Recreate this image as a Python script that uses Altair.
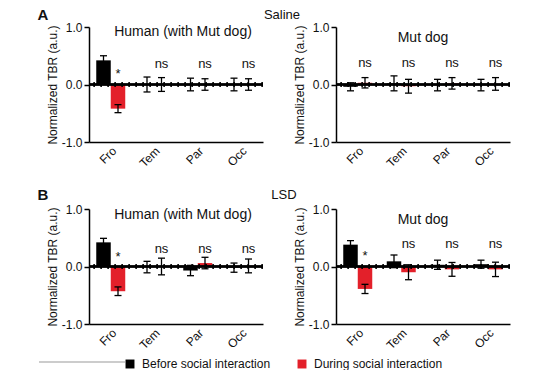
import altair as alt
import pandas as pd

regions = ["Fro", "Tem", "Par", "Occ"]
conditions = ["Before social interaction", "During social interaction"]
colors = ["#000000", "#e3202a"]

# Saline, Human (with Mut dog)
hs_before = [0.42, 0.0, 0.0, 0.0]
hs_before_sem = [0.08, 0.13, 0.11, 0.11]
hs_during = [-0.42, 0.0, 0.0, 0.0]
hs_during_sem = [0.07, 0.12, 0.10, 0.10]
hs_ann = ["*", "ns", "ns", "ns"]
hs_ann_y = [0.19, 0.35, 0.35, 0.35]

# Saline, Mut dog
ds_before = [-0.04, 0.02, -0.01, -0.01]
ds_before_sem = [0.07, 0.13, 0.10, 0.10]
ds_during = [0.03, -0.03, 0.02, 0.01]
ds_during_sem = [0.09, 0.12, 0.10, 0.11]
ds_ann = ["ns", "ns", "ns", "ns"]
ds_ann_y = [0.38, 0.38, 0.38, 0.38]

# LSD, Human (with Mut dog)
hl_before = [0.42, -0.01, -0.07, -0.02]
hl_before_sem = [0.07, 0.10, 0.09, 0.08]
hl_during = [-0.43, 0.0, 0.06, 0.01]
hl_during_sem = [0.075, 0.145, 0.10, 0.12]
hl_ann = ["*", "ns", "ns", "ns"]
hl_ann_y = [0.16, 0.31, 0.31, 0.31]

# LSD, Mut dog
dl_before = [0.38, 0.09, 0.03, 0.04]
dl_before_sem = [0.07, 0.11, 0.08, 0.07]
dl_during = [-0.39, -0.10, -0.05, -0.05]
dl_during_sem = [0.08, 0.13, 0.12, 0.125]
dl_ann = ["*", "ns", "ns", "ns"]
dl_ann_y = [0.19, 0.39, 0.39, 0.39]

y_ticks = [-1.0, -0.5, 0.0, 0.5, 1.0]

FONT = "Liberation Sans"
W, H = 174, 115

xscale = alt.Scale(domain=regions, paddingInner=0, paddingOuter=0)
xoscale = alt.Scale(domain=conditions, paddingInner=0, paddingOuter=0.5)
yscale = alt.Scale(domain=[-1, 1], nice=False, zero=False)

xaxis = alt.Axis(title=None, labelAngle=-45, labelFontSize=12, labelFont=FONT,
                 labelColor="#111", domainColor="black", domainWidth=1.5,
                 ticks=False, labelPadding=3)
yaxis = alt.Axis(title="Normalized TBR (a.u.)", values=y_ticks, grid=False,
                 labelExpr="datum.value < 0 ? '-' + format(-datum.value, '.1f') : format(datum.value, '.1f')",
                 labelFontSize=12, labelFont=FONT, labelColor="#111",
                 titleFontSize=12, titleFont=FONT, titleFontWeight="normal",
                 titleColor="#111", titlePadding=2,
                 domainColor="black", domainWidth=1.5, tickColor="black",
                 tickWidth=1.5, tickSize=5, labelPadding=2)

color = alt.Color("condition:N", scale=alt.Scale(domain=conditions, range=colors),
                  legend=alt.Legend(title=None, orient="none", legendX=35, legendY=331,
                                    direction="horizontal", symbolType="square",
                                    symbolSize=80, symbolStrokeWidth=0,
                                    labelFontSize=12, labelFont=FONT, labelColor="#111",
                                    columnPadding=25, labelOffset=6))


def X():
    return alt.X("region:N", sort=regions, scale=xscale, axis=xaxis)


def XO():
    return alt.XOffset("condition:N", sort=conditions, scale=xoscale)


def Y(field):
    return alt.Y(field, type="quantitative", scale=yscale, axis=yaxis)


def panel(before, bsem, during, dsem, ann, ann_y, title, title_x, title_y, extras):
    df = pd.DataFrame({
        "region": regions * 2,
        "condition": [conditions[0]] * 4 + [conditions[1]] * 4,
        "mean": before + during,
        "sem": bsem + dsem,
    })
    df["lo"] = df["mean"] - df["sem"]
    df["hi"] = df["mean"] + df["sem"]
    ann_df = pd.DataFrame({"region": regions, "condition": [conditions[1]] * 4,
                           "label": ann, "y": ann_y})
    base = alt.Chart(df)
    bars = base.mark_bar().encode(x=X(), xOffset=XO(), y=Y("mean"), color=color)
    zero = base.mark_rule(color="black", strokeWidth=1.6).encode(y=alt.datum(0))
    dots = base.mark_rule(color="black", strokeWidth=3.5, strokeDash=[1.5, 5.5]).encode(y=alt.datum(0))
    err = base.mark_rule(color="black", strokeWidth=1.3).encode(
        x=X(), xOffset=XO(), y=Y("lo"), y2="hi")
    cap_lo = base.mark_tick(color="black", thickness=1.3, size=7, opacity=1).encode(
        x=X(), xOffset=XO(), y=Y("lo"))
    cap_hi = base.mark_tick(color="black", thickness=1.3, size=7, opacity=1).encode(
        x=X(), xOffset=XO(), y=Y("hi"))
    txt = alt.Chart(ann_df).mark_text(fontSize=13, font=FONT, color="#111",
                                      fontWeight="normal", baseline="middle").encode(
        x=X(), xOffset=XO(), y=Y("y"), text="label:N")
    ttl = alt.Chart(pd.DataFrame({"t": [title], "v": [title_y]})).mark_text(
        fontSize=14, font=FONT, color="#111", fontWeight="normal", baseline="middle").encode(
        x=alt.value(title_x), y=Y("v"), text="t:N")
    layers = [bars, zero, dots, err, cap_lo, cap_hi, txt, ttl] + extras
    return alt.layer(*layers).properties(width=W, height=H)


def label(text, x, y, size=14, bold=False):
    return alt.Chart(pd.DataFrame({"t": [text]})).mark_text(
        fontSize=size, font=FONT, color="#111", baseline="middle",
        fontWeight="bold" if bold else "normal").encode(
        x=alt.value(x), y=alt.value(y), text="t:N")


sep = alt.Chart(pd.DataFrame({"t": [0]})).mark_rule(color="#999", strokeWidth=1).encode(
    x=alt.value(-50), x2=alt.value(36), y=alt.value(153))

p1 = panel(hs_before, hs_before_sem, hs_during, hs_during_sem, hs_ann, hs_ann_y,
           "Human (with Mut dog)", 94, 0.92,
           [label("A", -46, -12, 15, True), label("Saline", 193, -12, 13)])
p2 = panel(ds_before, ds_before_sem, ds_during, ds_during_sem, ds_ann, ds_ann_y,
           "Mut dog", 87, 0.81, [])
p3 = panel(hl_before, hl_before_sem, hl_during, hl_during_sem, hl_ann, hl_ann_y,
           "Human (with Mut dog)", 94, 0.9,
           [label("B", -46, -14, 15, True), label("LSD", 195, -14, 13), sep])
p4 = panel(dl_before, dl_before_sem, dl_during, dl_during_sem, dl_ann, dl_ann_y,
           "Mut dog", 87, 0.81, [])

chart = alt.concat(p1, p2, p3, p4, columns=2).properties(
    spacing=alt.RowColnumber(row=67, column=73),
    bounds="flush",
    padding={"left": 29, "top": 0, "right": 0, "bottom": 0},
    background="white",
).configure_view(stroke=None)

chart.save("out.html", embed_options={"renderer": "svg", "actions": False})
